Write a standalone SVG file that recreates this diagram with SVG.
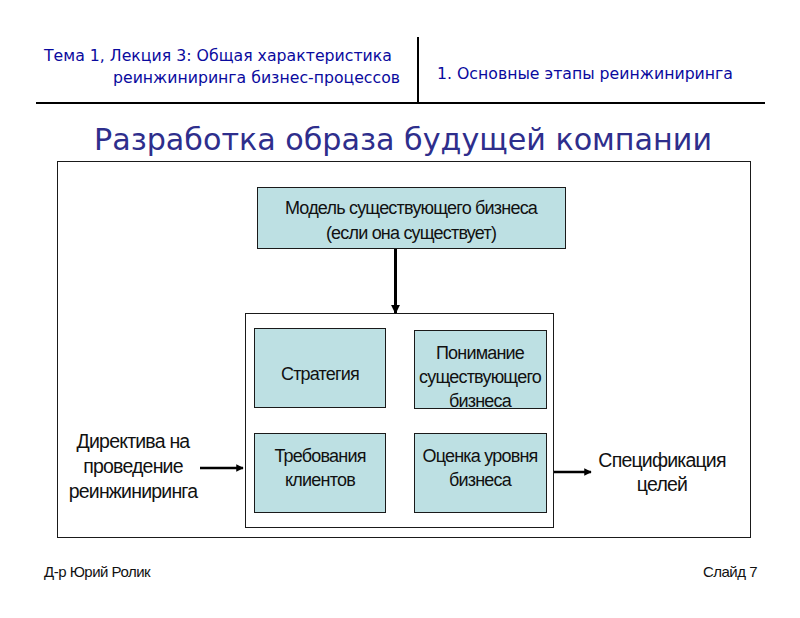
<svg xmlns="http://www.w3.org/2000/svg" width="800" height="618" viewBox="0 0 800 618">
<defs>
<style>
.hdr{font-family:"DejaVu Sans","Liberation Sans",sans-serif;font-size:15px;fill:#0A0A9E}
.ttl{font-family:"DejaVu Sans","Liberation Sans",sans-serif;font-size:30px;fill:#2E2E8C}
.box{fill:#BDE0E3;stroke:#1a1a1a;stroke-width:1}
.frame{fill:#fff;stroke:#1a1a1a;stroke-width:1}
.t{font-family:"Liberation Sans",Arial,sans-serif;font-size:18px;fill:#111;text-anchor:middle;letter-spacing:-0.8px}
.lbl{font-family:"Liberation Sans",Arial,sans-serif;font-size:19.5px;fill:#111;text-anchor:middle;letter-spacing:-0.8px}
.ftr{font-family:"Liberation Sans",Arial,sans-serif;font-size:15px;fill:#111;letter-spacing:-0.5px}
.conn{stroke:#000;fill:none}
</style>
<marker id="ah" viewBox="0 0 10 10" refX="9" refY="5" markerWidth="3" markerHeight="3" orient="auto" markerUnits="strokeWidth">
<path d="M0,0 L10,5 L0,10 z" fill="#000"/>
</marker>
</defs>
<rect width="800" height="618" fill="#fff"/>
<g id="header">
<line x1="36" y1="103" x2="765" y2="103" stroke="#000" stroke-width="2"/>
<line x1="418" y1="37" x2="418" y2="103" stroke="#000" stroke-width="2"/>
<text class="hdr" x="44" y="61" textLength="348" lengthAdjust="spacingAndGlyphs">Тема 1, Лекция 3: Общая характеристика</text>
<text class="hdr" x="113" y="83" textLength="287" lengthAdjust="spacingAndGlyphs">реинжиниринга бизнес-процессов</text>
<text class="hdr" x="437" y="79" textLength="296" lengthAdjust="spacingAndGlyphs">1. Основные этапы реинжиниринга</text>
</g>
<text class="ttl" x="94" y="150" textLength="618" lengthAdjust="spacingAndGlyphs">Разработка образа будущей компании</text>
<rect class="frame" x="57.5" y="161.5" width="693" height="376"/>
<g id="model">
<rect class="box" x="257.5" y="187.5" width="308" height="61"/>
<text class="t" x="411" y="214">Модель существующего бизнеса</text>
<text class="t" x="411" y="239">(если она существует)</text>
</g>
<g id="core">
<rect class="frame" x="245.5" y="313.5" width="308" height="214"/>
</g>
<g id="strategy">
<rect class="box" x="254.5" y="328.5" width="131" height="79"/>
<text class="t" x="320" y="380">Стратегия</text>
</g>
<g id="understanding">
<rect class="box" x="414.5" y="330.5" width="132" height="78"/>
<text class="t" x="480" y="359">Понимание</text>
<text class="t" x="480" y="383">существующего</text>
<text class="t" x="480" y="407">бизнеса</text>
</g>
<g id="requirements">
<rect class="box" x="254.5" y="433.5" width="131" height="79"/>
<text class="t" x="320" y="462">Требования</text>
<text class="t" x="320" y="486">клиентов</text>
</g>
<g id="assessment">
<rect class="box" x="414.5" y="433.5" width="132" height="79"/>
<text class="t" x="480" y="462">Оценка уровня</text>
<text class="t" x="480" y="486">бизнеса</text>
</g>
<g id="directive">
<text class="lbl" x="133" y="448">Директива на</text>
<text class="lbl" x="133" y="473">проведение</text>
<text class="lbl" x="133" y="498">реинжиниринга</text>
</g>
<g id="spec">
<text class="lbl" x="662" y="467">Спецификация</text>
<text class="lbl" x="662" y="491">целей</text>
</g>
<g id="connectors">
<line class="conn" x1="395.5" y1="249" x2="395.5" y2="313" stroke-width="3" marker-end="url(#ah)"/>
<line class="conn" x1="200" y1="468" x2="243" y2="468" stroke-width="2.5" marker-end="url(#ah)"/>
<line class="conn" x1="554" y1="472" x2="591" y2="472" stroke-width="2.5" marker-end="url(#ah)"/>
</g>
<text class="ftr" x="44" y="577">Д-р Юрий Ролик</text>
<text class="ftr" x="757" y="577" text-anchor="end">Слайд 7</text>
</svg>
